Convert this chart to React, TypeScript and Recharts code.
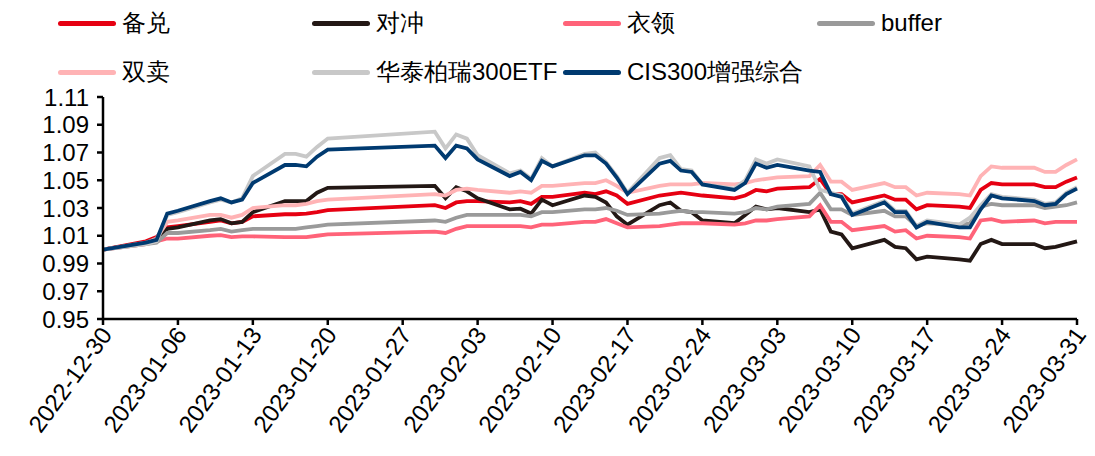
import React from "react";
import { LineChart, Line, XAxis, YAxis } from "recharts";

// trading days, 2022-12-30 .. 2023-03-31
const dates = [
  "2022-12-30", "2023-01-03", "2023-01-04", "2023-01-05", "2023-01-06",
  "2023-01-09", "2023-01-10", "2023-01-11", "2023-01-12", "2023-01-13",
  "2023-01-16", "2023-01-17", "2023-01-18", "2023-01-19", "2023-01-20",
  "2023-01-30", "2023-01-31", "2023-02-01", "2023-02-02", "2023-02-03",
  "2023-02-06", "2023-02-07", "2023-02-08", "2023-02-09", "2023-02-10",
  "2023-02-13", "2023-02-14", "2023-02-15", "2023-02-16", "2023-02-17",
  "2023-02-20", "2023-02-21", "2023-02-22", "2023-02-23", "2023-02-24",
  "2023-02-27", "2023-02-28", "2023-03-01", "2023-03-02", "2023-03-03",
  "2023-03-06", "2023-03-07", "2023-03-08", "2023-03-09", "2023-03-10",
  "2023-03-13", "2023-03-14", "2023-03-15", "2023-03-16", "2023-03-17",
  "2023-03-20", "2023-03-21", "2023-03-22", "2023-03-23", "2023-03-24",
  "2023-03-27", "2023-03-28", "2023-03-29", "2023-03-30", "2023-03-31",
];

const beidui = [
  1.000, 1.006, 1.009, 1.016, 1.017, 1.020, 1.021, 1.019, 1.020, 1.024,
  1.0255, 1.0255, 1.026, 1.027, 1.0285, 1.032, 1.030, 1.034, 1.035, 1.035,
  1.034, 1.035, 1.033, 1.038, 1.038, 1.041, 1.040, 1.042, 1.039, 1.033,
  1.039, 1.040, 1.041, 1.040, 1.039, 1.037, 1.039, 1.043, 1.042, 1.044,
  1.045, 1.051, 1.040, 1.040, 1.034, 1.039, 1.036, 1.036, 1.029, 1.032,
  1.031, 1.030, 1.043, 1.048, 1.047, 1.047, 1.045, 1.045, 1.049, 1.052,
];
const duichong = [
  1.000, 1.005, 1.008, 1.015, 1.016, 1.021, 1.022, 1.019, 1.020, 1.027,
  1.035, 1.035, 1.035, 1.041, 1.0445, 1.046, 1.037, 1.045, 1.042, 1.037,
  1.029, 1.0295, 1.026, 1.036, 1.032, 1.039, 1.038, 1.034, 1.024, 1.018,
  1.032, 1.034, 1.028, 1.027, 1.021, 1.019, 1.025, 1.031, 1.029, 1.030,
  1.027, 1.029, 1.013, 1.011, 1.001, 1.007, 1.002, 1.001, 0.993, 0.995,
  0.993, 0.992, 1.004, 1.007, 1.004, 1.004, 1.001, 1.002, 1.004, 1.006,
];
const yiling = [
  1.000, 1.004, 1.006, 1.008, 1.008, 1.010, 1.0105, 1.009, 1.0095, 1.0095,
  1.009, 1.009, 1.009, 1.010, 1.011, 1.013, 1.012, 1.015, 1.017, 1.017,
  1.017, 1.017, 1.016, 1.018, 1.018, 1.020, 1.020, 1.022, 1.019, 1.016,
  1.017, 1.018, 1.019, 1.019, 1.019, 1.018, 1.019, 1.021, 1.021, 1.022,
  1.024, 1.032, 1.020, 1.020, 1.014, 1.017, 1.013, 1.014, 1.008, 1.010,
  1.009, 1.008, 1.021, 1.022, 1.020, 1.021, 1.019, 1.020, 1.020, 1.020,
];
const buffer = [
  1.000, 1.004, 1.005, 1.012, 1.012, 1.014, 1.015, 1.013, 1.014, 1.015,
  1.015, 1.015, 1.016, 1.017, 1.018, 1.021, 1.020, 1.023, 1.025, 1.025,
  1.025, 1.025, 1.024, 1.027, 1.027, 1.029, 1.029, 1.030, 1.028, 1.025,
  1.026, 1.027, 1.028, 1.027, 1.027, 1.026, 1.027, 1.030, 1.029, 1.031,
  1.033, 1.041, 1.029, 1.029, 1.025, 1.028, 1.024, 1.024, 1.017, 1.019,
  1.018, 1.019, 1.031, 1.033, 1.032, 1.032, 1.030, 1.031, 1.032, 1.034,
];
const shuangmai = [
  1.000, 1.005, 1.008, 1.020, 1.021, 1.025, 1.025, 1.023, 1.025, 1.030,
  1.032, 1.032, 1.033, 1.035, 1.036, 1.040, 1.039, 1.043, 1.044, 1.043,
  1.041, 1.042, 1.041, 1.046, 1.046, 1.048, 1.048, 1.050, 1.046, 1.041,
  1.046, 1.047, 1.047, 1.047, 1.048, 1.047, 1.048, 1.050, 1.051, 1.052,
  1.053, 1.061, 1.049, 1.049, 1.043, 1.048, 1.045, 1.045, 1.039, 1.041,
  1.040, 1.039, 1.053, 1.060, 1.059, 1.059, 1.056, 1.056, 1.061, 1.065,
];
const etf300 = [
  1.000, 1.004, 1.006, 1.025, 1.027, 1.034, 1.036, 1.034, 1.037, 1.053,
  1.069, 1.069, 1.067, 1.074, 1.080, 1.085, 1.073, 1.083, 1.080, 1.068,
  1.055, 1.057, 1.051, 1.066, 1.060, 1.069, 1.070, 1.063, 1.053, 1.041,
  1.066, 1.068, 1.058, 1.057, 1.047, 1.044, 1.050, 1.065, 1.062, 1.065,
  1.060, 1.043, 1.041, 1.039, 1.026, 1.035, 1.028, 1.028, 1.017, 1.021,
  1.018, 1.023, 1.032, 1.040, 1.038, 1.036, 1.033, 1.034, 1.041, 1.045,
];
const cis300 = [
  1.000, 1.005, 1.007, 1.026, 1.028, 1.035, 1.037, 1.034, 1.036, 1.048,
  1.061, 1.061, 1.060, 1.067, 1.072, 1.075, 1.066, 1.075, 1.073, 1.065,
  1.053, 1.056, 1.050, 1.064, 1.060, 1.068, 1.068, 1.062, 1.052, 1.040,
  1.062, 1.064, 1.057, 1.056, 1.047, 1.043, 1.048, 1.062, 1.059, 1.061,
  1.057, 1.056, 1.040, 1.038, 1.025, 1.034, 1.027, 1.027, 1.016, 1.020,
  1.016, 1.016, 1.029, 1.039, 1.037, 1.035, 1.032, 1.033, 1.040, 1.044,
];

const yTicks = [0.95, 0.97, 0.99, 1.01, 1.03, 1.05, 1.07, 1.09, 1.11];
const xTicks = [0, 7, 14, 21, 28, 35, 42, 49, 56, 63, 70, 77, 84, 91];

const series = [
  { key: "beidui", name: "备兑", color: "#e60012" },
  { key: "duichong", name: "对冲", color: "#231815" },
  { key: "yiling", name: "衣领", color: "#ff6379" },
  { key: "buffer", name: "buffer", color: "#9a9a9a" },
  { key: "shuangmai", name: "双卖", color: "#ffb3b5" },
  { key: "etf300", name: "华泰柏瑞300ETF", color: "#c8c8c8" },
  { key: "cis300", name: "CIS300增强综合", color: "#003a70" },
];

const DAY = 86400000;
const base = Date.UTC(2022, 11, 30);
const toDay = (s: string) => {
  const [y, m, d] = s.split("-").map(Number);
  return Math.round((Date.UTC(y, m - 1, d) - base) / DAY);
};
const fmtDay = (n: number) => new Date(base + n * DAY).toISOString().slice(0, 10);

const data = dates.map((d, i) => ({
  t: toDay(d),
  beidui: beidui[i],
  duichong: duichong[i],
  yiling: yiling[i],
  buffer: buffer[i],
  shuangmai: shuangmai[i],
  etf300: etf300[i],
  cis300: cis300[i],
}));

const FONT = "'Liberation Sans', Arial, sans-serif";

const DateTick = (props: any) => {
  const { x, y, payload } = props;
  return (
    <g transform={`translate(${x},${y})`}>
      <text
        transform="translate(10,8) rotate(-54)"
        textAnchor="end"
        fontSize={24}
        fontFamily={FONT}
        fill="#000"
      >
        {fmtDay(payload.value)}
      </text>
    </g>
  );
};

// legend slots: [left of line, top]
const legendPos = [
  [58, 9], [312, 9], [563, 9], [817, 9],
  [58, 58], [312, 58], [563, 58],
];

const App = () => {
  if (typeof document !== "undefined") document.body.style.margin = "0";
  return (
    <div style={{ position: "relative", width: 1095, height: 456, background: "#fff" }}>
      {series.map((s, i) => (
        <div
          key={s.key}
          style={{
            position: "absolute",
            left: legendPos[i][0],
            top: legendPos[i][1],
            display: "flex",
            alignItems: "center",
            height: 28,
            fontFamily: FONT,
            fontSize: 24,
            color: "#000",
            whiteSpace: "nowrap",
          }}
        >
          <span
            style={{
              display: "inline-block",
              width: 58,
              height: 5,
              borderRadius: 3,
              background: s.color,
              marginRight: 6,
            }}
          />
          {s.name}
        </div>
      ))}
      <div style={{ position: "absolute", left: 0, top: 0 }}>
        <LineChart
          width={1095}
          height={456}
          data={data}
          margin={{ top: 97, right: 18, bottom: 0, left: 8 }}
        >
          <XAxis
            dataKey="t"
            type="number"
            domain={[0, 91]}
            ticks={xTicks}
            interval={0}
            height={137}
            tick={<DateTick />}
            axisLine={{ stroke: "#000", strokeWidth: 2.5 }}
            tickLine={{ stroke: "#000", strokeWidth: 2.5 }}
            tickSize={6}
          />
          <YAxis
            type="number"
            domain={[0.95, 1.11]}
            ticks={yTicks}
            interval={0}
            width={95}
            tickFormatter={(v: number) => v.toFixed(2)}
            tick={{ fill: "#000", fontSize: 24, fontFamily: FONT }}
            axisLine={{ stroke: "#000", strokeWidth: 2.5 }}
            tickLine={{ stroke: "#000", strokeWidth: 2.5 }}
            tickSize={6}
            tickMargin={8}
          />
          {series.map((s) => (
            <Line
              key={s.key}
              type="linear"
              dataKey={s.key}
              name={s.name}
              stroke={s.color}
              strokeWidth={3.8}
              dot={false}
              activeDot={false}
              isAnimationActive={false}
            />
          ))}
        </LineChart>
      </div>
    </div>
  );
};

export default App;
